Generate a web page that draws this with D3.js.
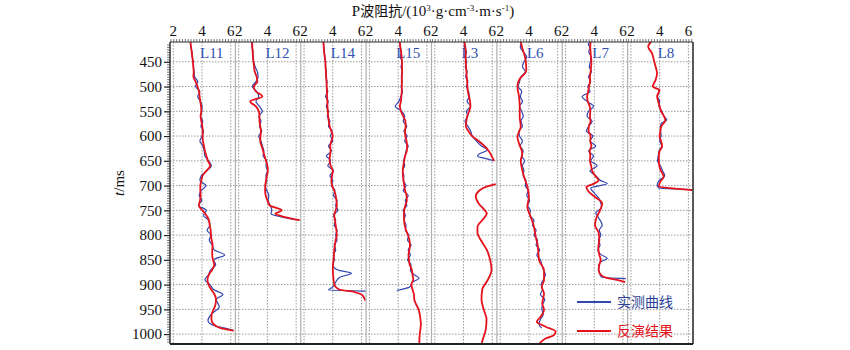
<!DOCTYPE html>
<html><head><meta charset="utf-8">
<script src="https://cdn.jsdelivr.net/npm/d3@7"></script>
<style>body{margin:0;background:#fff}svg{display:block}</style>
</head><body>
<svg id="c" width="850" height="350"></svg>
<script>
// ---- data ----
const panelNames = ["L11","L12","L14","L15","L3","L6","L7","L8"];
const xTickValues = [2,4,6];
const yTickValues = [450,500,550,600,650,700,750,800,850,900,950,1000];
const legendLabels = ["实测曲线","反演结果"];

// [time ms, impedance]
const L11_meas = [[410,3.2],[420,3.22],[430,3.3],[440,3.32],[450,3.38],[460,3.4],[470,3.45],[480,3.48],[490,3.7],[500,3.55],[510,3.85],[520,3.7],[530,3.88],[540,4.0],[550,3.98],[560,3.9],[570,4.05],[580,3.92],[590,4.1],[600,4.0],[610,3.85],[620,4.05],[630,4.15],[640,4.2],[650,4.45],[660,4.65],[670,4.35],[680,3.95],[690,3.85],[700,4.28],[710,3.95],[720,3.8],[730,3.98],[740,3.75],[750,4.3],[760,4.1],[770,4.45],[780,4.55],[790,4.35],[800,4.62],[810,4.5],[820,4.7],[830,4.85],[840,5.57],[850,4.8],[860,4.95],[870,4.6],[880,4.45],[890,4.2],[900,4.55],[910,4.8],[920,5.45],[930,4.99],[945,5.2],[960,4.64],[972,4.41],[982,4.76],[988,5.6],[993,6.2]];
const L11_inv = [[410,3.19],[420,3.23],[430,3.28],[440,3.32],[450,3.37],[460,3.39],[470,3.42],[480,3.4],[490,3.55],[500,3.68],[510,3.79],[520,3.83],[530,3.88],[540,3.93],[550,3.95],[560,3.9],[570,3.95],[580,4.02],[590,4.04],[600,4.04],[610,4.06],[620,4.13],[630,4.2],[640,4.3],[650,4.41],[660,4.57],[670,4.3],[680,4.04],[690,3.95],[700,3.88],[710,3.88],[720,3.9],[730,3.86],[740,3.78],[750,4.02],[760,4.3],[770,4.48],[780,4.53],[790,4.6],[800,4.62],[810,4.67],[820,4.74],[830,4.71],[840,4.71],[850,4.76],[860,4.85],[870,4.71],[880,4.48],[890,4.38],[900,4.45],[910,4.64],[920,4.87],[930,4.97],[940,4.94],[950,4.81],[960,4.67],[970,4.65],[980,4.8],[988,5.3],[993,6.2]];

const L12_meas = [[410,2.9],[420,2.93],[430,3.0],[440,2.98],[450,3.05],[460,3.15],[470,3.3],[480,3.35],[490,3.2],[500,2.95],[510,3.25],[520,3.4],[530,3.2],[540,3.45],[550,3.65],[560,3.4],[570,3.55],[580,3.45],[590,3.6],[600,3.4],[610,3.55],[620,3.65],[630,3.75],[640,3.7],[650,3.95],[660,3.9],[670,4.0],[680,3.9],[690,3.95],[700,3.85],[710,3.95],[720,4.1],[730,4.05],[740,4.2],[750,4.3],[757,4.25],[763,4.9],[770,6.2]];
const L12_inv = [[410,2.94],[420,2.95],[430,2.97],[440,3.0],[450,3.03],[460,3.07],[470,3.12],[480,3.25],[490,3.3],[500,3.05],[510,3.2],[520,3.65],[530,2.8],[540,3.2],[550,3.4],[560,3.45],[570,3.45],[580,3.5],[590,3.55],[600,3.52],[610,3.5],[620,3.6],[630,3.7],[640,3.8],[650,3.9],[660,4.0],[670,4.03],[680,3.97],[690,3.9],[700,3.85],[710,3.84],[720,3.88],[730,4.0],[740,4.15],[750,5.0],[757,4.55],[764,5.3],[770,6.25]];

const L14_meas = [[410,3.33],[420,3.38],[430,3.4],[440,3.45],[450,3.5],[460,3.48],[470,3.55],[480,3.52],[490,3.6],[500,3.55],[510,3.65],[520,3.5],[530,3.68],[540,3.55],[550,3.7],[560,3.62],[570,3.8],[580,3.7],[590,3.95],[600,3.85],[610,4.0],[620,3.7],[630,3.9],[640,3.55],[650,3.85],[660,3.65],[670,4.05],[680,3.8],[690,4.0],[700,3.9],[710,4.15],[720,4.05],[730,4.3],[740,4.2],[750,4.35],[760,4.05],[770,4.2],[780,4.1],[790,4.3],[800,4.2],[810,4.3],[820,4.1],[830,4.2],[840,4.05],[850,4.1],[860,4.0],[870,4.3],[877,5.3],[885,4.5],[895,4.2],[905,4.0],[911,3.7],[913,6.3]];
const L14_inv = [[410,3.35],[420,3.37],[430,3.4],[440,3.44],[450,3.48],[460,3.5],[470,3.52],[480,3.54],[490,3.56],[500,3.58],[510,3.59],[520,3.6],[530,3.62],[540,3.63],[550,3.65],[560,3.68],[570,3.72],[580,3.78],[590,3.9],[600,4.0],[610,3.9],[620,3.82],[630,3.85],[640,3.8],[650,3.78],[660,3.85],[670,4.0],[680,3.95],[690,3.9],[700,3.95],[710,4.1],[720,4.2],[730,4.25],[740,4.28],[750,4.2],[760,4.1],[770,4.15],[780,4.2],[790,4.25],[800,4.28],[810,4.2],[820,4.15],[830,4.1],[840,4.08],[850,4.05],[860,4.02],[870,4.0],[880,4.02],[890,4.05],[900,4.1],[910,4.45],[915,5.5],[920,6.0],[925,6.15],[932,6.25]];

const L15_meas = [[410,4.1],[420,4.15],[430,4.22],[440,4.15],[450,4.28],[460,4.2],[470,4.3],[480,4.22],[490,4.28],[500,4.2],[510,4.3],[520,4.18],[530,4.05],[540,3.8],[550,4.25],[560,4.45],[570,4.35],[580,4.6],[590,4.4],[600,4.62],[610,4.45],[620,4.7],[630,4.55],[640,4.5],[650,4.38],[660,4.45],[670,4.3],[680,4.4],[690,4.35],[700,4.55],[710,4.35],[720,4.7],[730,4.5],[740,4.6],[750,4.35],[760,4.5],[770,4.4],[780,4.55],[790,4.5],[800,4.75],[810,4.65],[820,4.9],[830,4.7],[840,4.85],[850,4.65],[860,4.9],[870,4.85],[880,5.1],[887,5.45],[895,5.0],[905,4.8],[912,3.9]];
const L15_inv = [[410,4.12],[420,4.15],[430,4.2],[440,4.24],[450,4.26],[460,4.27],[470,4.27],[480,4.26],[490,4.25],[500,4.26],[510,4.25],[520,4.22],[530,4.19],[540,4.12],[550,4.2],[560,4.35],[570,4.5],[580,4.52],[590,4.48],[600,4.5],[610,4.58],[620,4.62],[630,4.6],[640,4.48],[650,4.42],[660,4.36],[670,4.32],[680,4.33],[690,4.38],[700,4.42],[710,4.48],[720,4.58],[730,4.6],[740,4.5],[750,4.42],[760,4.4],[770,4.42],[780,4.45],[790,4.55],[800,4.68],[810,4.78],[820,4.82],[830,4.78],[840,4.72],[850,4.75],[860,4.8],[870,4.95],[880,5.0],[890,5.05],[900,4.92],[910,5.0],[920,5.1],[930,5.12],[940,5.25],[950,5.42],[960,5.5],[970,5.55],[980,5.58],[990,5.55],[1000,5.5],[1010,5.48],[1020,5.47]];

const L3_meas = [[410,4.1],[420,4.05],[430,4.2],[440,4.1],[450,4.2],[460,4.12],[470,4.25],[480,4.15],[490,4.3],[500,4.2],[510,4.35],[520,4.4],[530,4.25],[540,4.5],[550,4.2],[560,4.3],[570,4.1],[580,4.3],[590,4.5],[600,4.6],[610,4.9],[620,5.25],[628,5.66],[636,5.1],[641,4.97],[645,5.5],[650,6.1]];
const L3_inv_upper = [[410,4.05],[420,4.12],[430,4.15],[440,4.15],[450,4.15],[460,4.18],[470,4.2],[480,4.22],[490,4.25],[500,4.27],[510,4.3],[520,4.38],[530,4.45],[540,4.48],[550,4.39],[560,4.25],[570,4.2],[580,4.16],[590,4.34],[600,4.6],[610,5.05],[620,5.45],[630,5.75],[640,5.95],[650,6.12]];
const L3_inv_lower = [[697,6.24],[702,5.6],[710,5.1],[722,4.85],[736,5.05],[749,5.45],[756,5.62],[770,5.3],[783,4.97],[796,4.97],[810,5.2],[830,5.62],[850,5.85],[870,5.95],[890,5.7],[910,5.3],[930,5.25],[950,5.4],[970,5.6],[990,5.55],[1010,5.35],[1020,5.25]];

const L6_meas = [[410,3.5],[420,3.4],[430,3.6],[440,3.85],[450,3.65],[460,3.55],[470,3.75],[480,3.45],[490,3.35],[500,3.25],[510,3.5],[520,3.4],[530,3.55],[540,3.35],[550,3.5],[560,3.6],[570,3.45],[580,3.55],[590,3.3],[600,3.35],[610,3.55],[620,3.4],[630,3.6],[640,3.5],[650,3.7],[660,3.55],[670,3.65],[680,3.6],[690,3.8],[700,3.75],[710,3.95],[720,3.85],[730,4.05],[740,3.9],[750,4.1],[760,4.05],[770,4.35],[780,4.25],[790,4.5],[800,4.35],[810,4.6],[820,4.5],[830,4.75],[840,4.55],[850,4.8],[860,4.9],[870,5.0],[880,5.15],[890,5.0],[900,4.85],[910,4.95],[920,4.8],[930,5.1],[940,4.95],[950,4.9],[960,5.0],[970,4.8],[980,4.7],[988,4.9]];
const L6_inv = [[410,3.43],[426,3.58],[446,3.77],[467,3.82],[487,3.31],[500,3.2],[520,3.31],[541,3.36],[561,3.36],[581,3.43],[601,3.2],[615,3.31],[635,3.54],[650,3.43],[669,3.54],[682,3.66],[702,3.89],[722,4.0],[743,3.89],[763,4.12],[783,4.35],[803,4.47],[817,4.59],[837,4.66],[850,4.7],[871,5.05],[891,5.05],[904,4.89],[918,5.05],[938,4.93],[951,5.05],[965,4.82],[975,4.55],[985,5.16],[995,5.86],[1002,5.74],[1009,5.16],[1020,4.7]];

const L7_meas = [[410,3.7],[415,3.58],[420,3.7],[430,3.62],[440,3.78],[450,3.72],[460,3.65],[470,3.8],[480,3.6],[490,3.75],[500,3.55],[510,3.7],[520,3.15],[530,3.5],[540,3.95],[550,3.6],[560,3.5],[570,3.85],[580,3.62],[590,3.45],[600,3.9],[610,3.7],[620,4.1],[630,3.6],[640,3.95],[650,3.75],[660,4.2],[670,3.7],[680,4.1],[690,4.45],[696,4.9],[705,3.75],[715,4.0],[725,4.3],[735,4.45],[745,4.5],[755,4.1],[765,4.3],[780,4.55],[790,4.35],[800,4.45],[810,4.3],[820,4.4],[830,4.25],[840,4.5],[847,4.9],[855,4.4],[865,4.3],[875,4.35],[885,4.5],[888,6.2]];
const L7_inv = [[410,3.74],[420,3.72],[430,3.74],[440,3.76],[450,3.8],[460,3.78],[470,3.74],[480,3.7],[490,3.7],[500,3.63],[510,3.58],[520,3.5],[530,3.55],[540,3.68],[550,3.72],[560,3.7],[570,3.74],[580,3.62],[590,3.6],[600,3.74],[610,3.72],[620,3.8],[630,3.68],[640,3.72],[650,3.7],[660,3.78],[670,3.85],[680,4.05],[690,4.3],[697,3.9],[703,3.45],[712,3.6],[722,4.0],[736,4.55],[750,4.4],[765,4.15],[780,4.05],[795,4.3],[810,4.35],[825,4.28],[840,4.35],[850,4.45],[860,4.35],[870,4.3],[880,4.45],[886,4.8],[890,5.5],[895,6.15]];

const L8_meas = [[505,3.9],[510,3.95],[520,3.85],[530,4.0],[540,3.95],[550,4.15],[560,4.3],[567,4.5],[575,4.1],[585,4.05],[600,4.1],[610,4.0],[620,4.15],[630,3.95],[640,3.9],[650,3.85],[660,4.05],[670,4.2],[680,4.35],[690,3.95],[700,3.83],[705,3.95],[708,6.25]];
const L8_inv = [[410,3.4],[419,3.2],[433,3.47],[446,3.59],[460,3.72],[473,3.82],[487,3.71],[500,3.52],[507,3.99],[520,3.82],[530,3.9],[540,4.0],[550,4.1],[560,4.3],[568,4.4],[580,4.12],[590,4.05],[601,3.99],[610,4.1],[621,4.17],[630,4.0],[642,3.94],[655,3.95],[668,4.05],[682,4.28],[692,4.05],[702,3.94],[706,5.1],[709,6.26]];

const measuredSeries = [[L11_meas],[L12_meas],[L14_meas],[L15_meas],[L3_meas],[L6_meas],[L7_meas],[L8_meas]];
const invertedSeries = [[L11_inv],[L12_inv],[L14_inv],[L15_inv],[L3_inv_upper,L3_inv_lower],[L6_inv],[L7_inv],[L8_inv]];

// ---- layout ----
const svg = d3.select("#c");
const plotL = 170, plotR = 693, plotT = 42, plotB = 344;
const pw = (plotR - plotL) / panelNames.length;
const blue = "#3346b0", red = "#e5121c";
const serif = "'Liberation Serif','DejaVu Serif',serif";
const cjk = "'Noto Sans CJK SC','Liberation Serif',sans-serif";

const yScale = d3.scaleLinear().domain([410, 1020]).range([plotT, plotB]);
const band = d3.scaleBand().domain(panelNames).range([plotL, plotR]).padding(0);

// horizontal grid
svg.append("g").selectAll("line").data(yTickValues).join("line")
  .attr("x1", plotL).attr("x2", plotR)
  .attr("y1", d => yScale(d)).attr("y2", d => yScale(d))
  .attr("stroke", "#9a9a9a").attr("stroke-width", 1).attr("stroke-dasharray", "1.5,1.5");

panelNames.forEach((name, i) => {
  const x0 = band(name);
  const x = d3.scaleLinear().domain([1.77, 6.32]).range([x0, x0 + pw]);
  const g = svg.append("g");
  g.selectAll("line.vg").data(xTickValues).join("line").attr("class","vg")
    .attr("x1", d => x(d)).attr("x2", d => x(d)).attr("y1", plotT).attr("y2", plotB)
    .attr("stroke", "#9a9a9a").attr("stroke-width", 1).attr("stroke-dasharray", "1.5,1.5");
  if (i > 0) {
    g.append("line").attr("x1", x0).attr("x2", x0).attr("y1", plotT).attr("y2", plotB)
      .attr("stroke", "#b0b0b0").attr("stroke-width", 1.2);
  }
  const ax = d3.axisTop(x).tickValues(d3.range(1.8, 6.31, 0.2)).tickSize(3).tickFormat("");
  const axg = svg.append("g").attr("transform", `translate(0,${plotT})`).call(ax);
  axg.select(".domain").remove();
  axg.selectAll("line").attr("stroke", "#555").attr("stroke-width", 0.8);
  svg.append("g").selectAll("text").data(xTickValues).join("text")
    .attr("x", d => x(d)).attr("y", 36).attr("text-anchor", "middle")
    .attr("font-family", serif).attr("font-size", 15).attr("fill", "#111").text(d => d);
  g.append("text").attr("x", x0 + 30).attr("y", 58)
    .attr("font-family", serif).attr("font-size", 15).attr("fill", "#3050b0").text(name);
  const lineGen = d3.line().x(d => x(d[1])).y(d => yScale(d[0])).curve(d3.curveMonotoneY);
  measuredSeries[i].forEach(s => {
    g.append("path").attr("d", lineGen(s))
      .attr("fill", "none").attr("stroke", blue).attr("stroke-width", 1.2);
  });
  invertedSeries[i].forEach(s => {
    g.append("path").attr("d", lineGen(s))
      .attr("fill", "none").attr("stroke", red).attr("stroke-width", 1.8);
  });
});

// left axis
const yAxisMinor = d3.axisLeft(yScale).tickValues(d3.range(415, 1020, 5)).tickSize(3).tickFormat("");
const ym = svg.append("g").attr("transform", `translate(${plotL},0)`).call(yAxisMinor);
ym.select(".domain").remove();
ym.selectAll("line").attr("stroke", "#555").attr("stroke-width", 0.8);
const yAxis = d3.axisLeft(yScale).tickValues(yTickValues).tickSize(6).tickPadding(2).tickFormat(d3.format("d"));
const ya = svg.append("g").attr("transform", `translate(${plotL},0)`).call(yAxis);
ya.select(".domain").remove();
ya.selectAll("line").attr("stroke", "#222").attr("stroke-width", 1.2);
ya.selectAll("text").attr("font-family", serif).attr("font-size", 15).attr("fill", "#111");

// frame
svg.append("line").attr("x1", plotL).attr("x2", plotL).attr("y1", plotT).attr("y2", plotB).attr("stroke", "#333").attr("stroke-width", 1.5);
svg.append("line").attr("x1", plotL).attr("x2", plotR).attr("y1", plotT).attr("y2", plotT).attr("stroke", "#333").attr("stroke-width", 1);
svg.append("line").attr("x1", plotR).attr("x2", plotR).attr("y1", plotT).attr("y2", plotB).attr("stroke", "#222").attr("stroke-width", 1.5);
svg.append("line").attr("x1", plotL).attr("x2", plotR).attr("y1", plotB).attr("y2", plotB).attr("stroke", "#222").attr("stroke-width", 2);

// title
const title = svg.append("text").attr("x", 433).attr("y", 16).attr("text-anchor", "middle")
  .attr("font-family", serif).attr("font-size", 15).attr("fill", "#111");
title.append("tspan").text("P");
title.append("tspan").attr("font-family", cjk).attr("font-size", 14).text("波阻抗");
title.append("tspan").text("/(10");
title.append("tspan").attr("dy", -5).attr("font-size", 9).text("3");
title.append("tspan").attr("dy", 5).text("·g·cm");
title.append("tspan").attr("dy", -5).attr("font-size", 9).text("-3");
title.append("tspan").attr("dy", 5).text("·m·s");
title.append("tspan").attr("dy", -5).attr("font-size", 9).text("-1");
title.append("tspan").attr("dy", 5).text(")");

// y title
const yt = svg.append("text").attr("transform", "translate(124,183) rotate(-90)")
  .attr("text-anchor", "middle").attr("font-family", serif).attr("font-size", 15).attr("fill", "#111");
yt.append("tspan").attr("font-style", "italic").text("t");
yt.append("tspan").text("/ms");

// legend
const legColors = [blue, red];
const legTextColors = ["#2a3f95", "#e5121c"];
legendLabels.forEach((lab, i) => {
  const ly = 302 + i * 29;
  svg.append("line").attr("x1", 577).attr("x2", 611).attr("y1", ly).attr("y2", ly)
    .attr("stroke", legColors[i]).attr("stroke-width", i ? 2 : 1.8);
  svg.append("text").attr("x", 617).attr("y", ly + 5).attr("font-family", cjk)
    .attr("font-size", 14).attr("fill", legTextColors[i]).text(lab);
});
</script>
</body></html>
